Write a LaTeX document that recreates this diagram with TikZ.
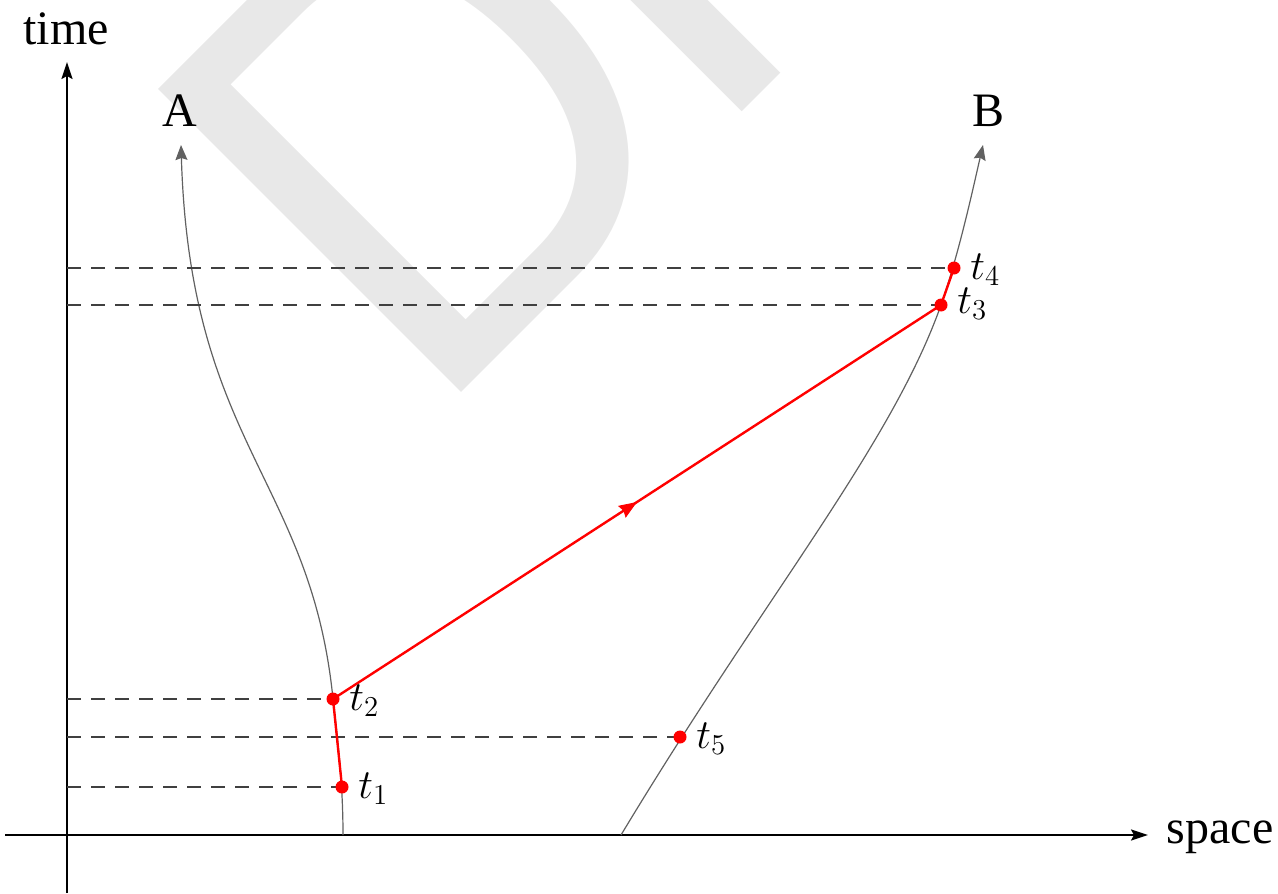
\documentclass[tikz,border=0pt]{standalone}
\usepackage[no-math]{fontspec}
\setmainfont{Liberation Serif}
\newfontfamily\wmfont{TeX Gyre Heros}
\usetikzlibrary{arrows.meta,decorations.markings,calc}
\definecolor{wmgray}{gray}{0.91}
\definecolor{curvegray}{gray}{0.38}
\definecolor{dashgray}{gray}{0.25}
\begin{document}
\begin{tikzpicture}[x=0.5pt,y=-0.5pt,
  axis/.style={line width=1pt,-{Stealth[length=8.5pt,width=5.5pt,inset=1.5pt]}},
  world/.style={curvegray,line width=0.6pt,-{Stealth[length=7.5pt,width=6pt,inset=1pt]}},
  guide/.style={dashgray,line width=1.25pt,dash pattern=on 7pt off 5pt},
  signal/.style={red,line width=1.2pt,line join=round},
  evt/.style={circle,fill=red,inner sep=0pt,minimum size=6.5pt},
  lab/.style={font=\fontsize{24}{28}\selectfont,inner sep=0pt,anchor=base},
  tlab/.style={font=\fontsize{22}{26}\selectfont,inner sep=0pt,anchor=base west},
]
\useasboundingbox (0,0) rectangle (1278,893);
\begin{scope}
  \clip (0,0) rectangle (1278,893);
  \node[wmgray,font=\wmfont\fontsize{294}{294}\selectfont,rotate=45,anchor=base west,inner sep=0pt,outer sep=0pt] (wm) at (424.8,429.2) {D\kern-15pt RAFT};
\end{scope}

% axes
\coordinate (O) at (67,835);
\coordinate (ytop) at (67,62);
\coordinate (ybot) at (67,893);
\coordinate (xleft) at (5,835);
\coordinate (xright) at (1148,835);
\draw[axis] (ybot) -- (ytop);
\draw[axis] (xleft) -- (xright);
\node[lab] (time) at (66,45) {time};
\node[lab] (space) at (1220,843) {space};

% events
\coordinate (t1) at (342,787);
\coordinate (t2) at (333,699);
\coordinate (t3) at (941,305);
\coordinate (t4) at (954,268);
\coordinate (t5) at (680,737);
\coordinate (a0) at (343,835);
\coordinate (a9) at (181,145);
\coordinate (b0) at (621,835);
\coordinate (b9) at (983,145);

% world lines
\draw[world] (a0) .. controls (343,780) and (337,735) .. (t2)
             .. controls (311,479) and (190,445) .. (a9);
\draw[world] (b0) .. controls (765.5,595) and (891,446) .. (t3)
             .. controls (959,253) and (972,193) .. (b9);
\node[lab] (A) at (180,127) {A};
\node[lab] (B) at (988,127) {B};

% guide lines
\foreach \e in {t1,t2,t3,t4,t5}
  \draw[guide] (O |- \e) -- (\e);

% signal
\draw[signal] (t1) -- (t2) -- (t3) -- (t4);
\path[decorate,decoration={markings,mark=at position 0.5 with {\arrow[red]{Stealth[length=9pt,width=7pt,inset=1pt]}}}] (t2) -- (t3);

\foreach \e in {t1,t2,t3,t4,t5}
  \node[evt] (d\e) at (\e) {};

\node[tlab] (l1) at ($(t1)+(16,11)$) {$t_1$};
\node[tlab] (l2) at ($(t2)+(16,11)$) {$t_2$};
\node[tlab] (l3) at ($(t3)+(16,8)$) {$t_3$};
\node[tlab] (l4) at ($(t4)+(16,11)$) {$t_4$};
\node[tlab] (l5) at ($(t5)+(16,11)$) {$t_5$};
\end{tikzpicture}
\end{document}
